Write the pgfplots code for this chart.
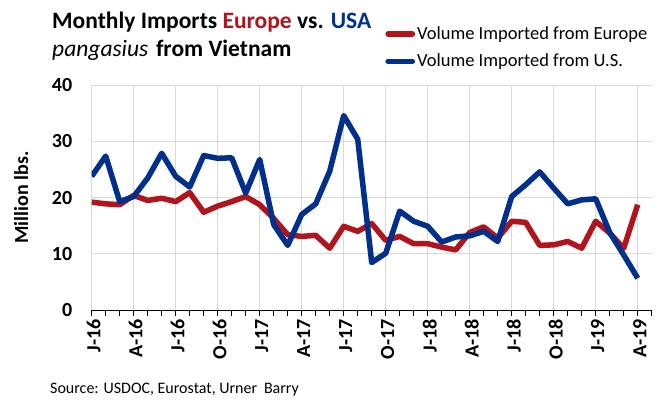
\documentclass[border=0pt]{standalone}
\usepackage{pgfplots}
\pgfplotsset{compat=1.18}
\usepackage{pgfplotstable}
\usepackage{fontspec}
\setmainfont{Carlito}
\definecolor{eured}{RGB}{176,20,28}
\definecolor{usblue}{RGB}{0,48,140}
\definecolor{gridgray}{RGB}{217,217,217}

\pgfplotstableread{
m eu us
0 19.2 23.8
1 18.9 27.4
2 18.75 19.3
3 20.4 20.2
4 19.5 23.5
5 19.9 27.9
6 19.3 23.8
7 20.9 21.9
8 17.4 27.5
9 18.5 27.0
10 19.3 27.1
11 20.2 20.8
12 18.75 26.8
13 16.3 15.2
14 13.4 11.5
15 13.1 17.0
16 13.3 18.9
17 11.0 24.7
18 14.9 34.6
19 14.0 30.4
20 15.4 8.45
21 12.4 10.1
22 13.1 17.6
23 11.8 15.8
24 11.8 14.9
25 11.2 12.1
26 10.7 13.0
27 13.8 13.2
28 14.8 14.0
29 12.8 12.2
30 15.8 20.2
31 15.6 22.3
32 11.5 24.6
33 11.6 21.7
34 12.2 18.9
35 11.0 19.6
36 15.8 19.8
37 13.7 13.8
38 11.0 9.8
39 18.75 5.65
}\datatable

\begin{document}
\begin{tikzpicture}[x=1bp,y=1bp]
\useasboundingbox (0,0) rectangle (667,401);
\begin{axis}[
 at={(91.7bp,91bp)}, anchor=south west,
 width=560bp, height=224.7bp, scale only axis,
 xmin=0, xmax=40, ymin=0, ymax=40,
 axis x line*=bottom, axis y line*=left,
 y axis line style={draw=none},
 x axis line style={black, line width=1bp},
 xtick={0,3,...,39},
 xticklabels={J-16,A-16,J-16,O-16,J-17,A-17,J-17,O-17,J-18,A-18,J-18,O-18,J-19,A-19},
 minor xtick={0,1,...,40},
 tick align=outside,
 major tick length=6bp, minor tick length=6bp,
 x tick style={black, line width=0.8bp},
 minor x tick style={black, line width=0.8bp},
 ytick={0,10,20,30,40},
 y tick style={draw=none},
 grid=major,
 major grid style={gridgray, line width=1bp},
 /pgf/number format/assume math mode=true,
 xticklabel style={rotate=90, anchor=east, yshift=-2bp, font=\bfseries\fontsize{20bp}{20bp}\selectfont},
 yticklabel style={font=\bfseries\fontsize{20bp}{20bp}\selectfont, xshift=-10bp},
 ylabel={Million lbs.},
 ylabel style={font=\bfseries\fontsize{20bp}{24bp}\selectfont, at={(axis description cs:-0.126,0.5)}, anchor=center},
 legend style={at={(axis description cs:0.524,1.27)}, anchor=north west, draw=none, fill=none,
   font=\fontsize{18.5bp}{22bp}\selectfont, inner sep=0pt, row sep=9bp},
 legend cell align=left,
 legend image code/.code={\draw[#1, line width=5.5bp, line cap=round] (2.75bp,0) -- (27bp,0);},
 line join=round,
]
\addplot[eured, line width=5.5bp, line join=round] table[x=m, y=eu] {\datatable};
\addlegendentry{Volume Imported from Europe}
\addplot[usblue, line width=5.5bp, line join=round] table[x=m, y=us] {\datatable};
\addlegendentry{Volume Imported from U.S.}
\end{axis}
\node[anchor=base west, inner sep=0, font=\bfseries\fontsize{23.5bp}{26bp}\selectfont] at (52,372.7) {Monthly Imports \textcolor{eured}{Europe} vs. \textcolor{usblue}{USA}};
\node[anchor=base west, inner sep=0, font=\fontsize{23.5bp}{26bp}\selectfont] at (52,344.3) {\textit{pangasius}\hspace{0.1em} \textbf{from Vietnam}};
\node[anchor=base west, inner sep=0, font=\fontsize{16bp}{18bp}\selectfont] at (50,8) {Source: USDOC, Eurostat, Urner\hspace{0.2em} Barry};
\end{tikzpicture}
\end{document}
